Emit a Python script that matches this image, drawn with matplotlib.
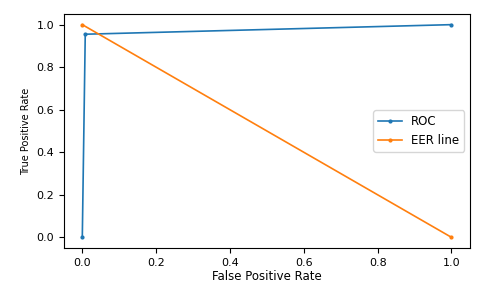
import numpy as np
import matplotlib
matplotlib.use("Agg")
import matplotlib.pyplot as plt

# ROC curve points
fpr = [0.0, 0.008, 1.0]
tpr = [0.0, 0.955, 1.0]
# EER reference line
eer_x = [0.0, 1.0]
eer_y = [1.0, 0.0]

plt.rcParams['font.size'] = 8

fig = plt.figure(figsize=(4.8, 2.86), dpi=100)
ax = fig.add_axes([0.133, 0.133, 0.846, 0.818])
ax.plot(fpr, tpr, marker='.', markersize=4, linewidth=1.2, label='ROC')
ax.plot(eer_x, eer_y, marker='.', markersize=4, linewidth=1.2, label='EER line')
ax.set_xlabel('False Positive Rate', fontsize=8.5, labelpad=2)
ax.set_ylabel('True Positive Rate', fontsize=7)
ax.set_xticks(np.arange(0, 1.01, 0.2))
ax.set_yticks(np.arange(0, 1.01, 0.2))
ax.legend(loc='center right', fontsize=8.5)
fig.savefig('out.png', dpi=100)
